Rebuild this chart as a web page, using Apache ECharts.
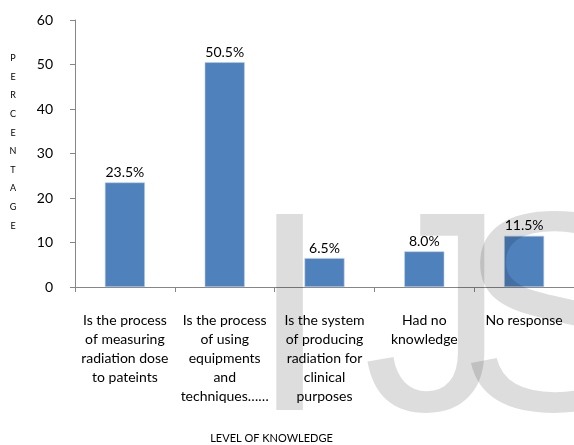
<!DOCTYPE html>
<html>
<head>
<meta charset="utf-8">
<script src="https://cdn.jsdelivr.net/npm/echarts@6/dist/echarts.min.js"></script>
<style>html,body{margin:0;padding:0;background:#fff}#c{width:574px;height:445px}</style>
</head>
<body>
<div id="c"></div>
<script>
const categories = [
  "Is the process\nof measuring\nradiation dose\nto pateints",
  "Is the process\nof using\nequipments\nand\ntechniques……",
  "Is the system\nof producing\nradiation for\nclinical\npurposes",
  "Had no\nknowledge",
  "No response"
];
const values = [23.5, 50.5, 6.5, 8.0, 11.5];
const yTicks = { min: 0, max: 60, interval: 10 };
const yTitle = "PERCENTAGE";
const xTitle = "LEVEL OF KNOWLEDGE";

const chart = echarts.init(document.getElementById('c'), null, { renderer: 'canvas' });
const font = 'Lato, "Open Sans", sans-serif';
const wmFont = '285px "Liberation Sans", Arial, sans-serif';
const wmFill = 'rgba(0,0,0,0.135)';
chart.setOption({
  animation: false,
  grid: { left: 75, right: 0, top: 20, bottom: 158, containLabel: false, outerBoundsMode: 'none' },
  xAxis: {
    type: 'category',
    data: categories,
    axisLine: { lineStyle: { color: '#868686', width: 1 } },
    axisTick: { show: true, length: 5, lineStyle: { color: '#868686' } },
    axisLabel: { interval: 0, color: '#000', fontFamily: font, fontSize: 14, lineHeight: 19, margin: 24, align: 'center' },
    name: xTitle,
    nameLocation: 'middle',
    nameGap: 146,
    nameTextStyle: { color: '#000', fontFamily: font, fontSize: 11, padding: [0, 106, 0, 0] }
  },
  yAxis: {
    type: 'value',
    min: yTicks.min, max: yTicks.max, interval: yTicks.interval,
    splitLine: { show: false },
    axisLine: { show: true, lineStyle: { color: '#868686', width: 1 } },
    axisTick: { show: true, length: 5, lineStyle: { color: '#868686' } },
    axisLabel: { color: '#000', fontFamily: font, fontSize: 14, margin: 22 }
  },
  series: [{
    type: 'bar',
    data: values,
    barWidth: 40,
    itemStyle: { color: '#4f81bd', borderColor: '#b9cde5', borderWidth: 0.6 },
    label: {
      show: true, position: 'top', distance: 3,
      color: '#000', fontFamily: font, fontSize: 14,
      formatter: p => p.value.toFixed(1) + '%'
    }
  }],
  graphic: [
    { type: 'text', x: 13, y: 49, silent: true,
      style: { text: yTitle.split('').join('\n'), fill: '#000', fontFamily: font, fontSize: 9, lineHeight: 18.6, align: 'center', verticalAlign: 'top' } },
    { type: 'text', left: 250, top: 189, z: 100, silent: true, style: { text: 'I', fill: wmFill, font: wmFont } },
    { type: 'text', left: 363, top: 189, z: 100, silent: true, style: { text: 'J', fill: wmFill, font: wmFont } },
    { type: 'text', left: 458, top: 189, z: 100, silent: true, style: { text: 'S', fill: wmFill, font: wmFont } }
  ]
});
</script>
</body>
</html>
